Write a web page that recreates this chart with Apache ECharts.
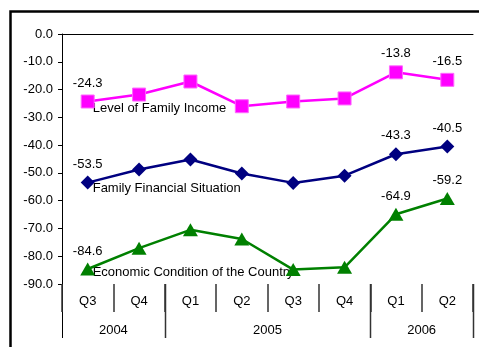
<!DOCTYPE html>
<html><head><meta charset="utf-8">
<script src="https://cdn.jsdelivr.net/npm/echarts@6/dist/echarts.min.js"></script>
<style>html,body{margin:0;padding:0;background:#fff}#c{width:479px;height:347px}</style>
</head><body><div id="c"></div>
<script>
// Quarterly survey indices, Q3 2004 – Q2 2006
const quarters = ['Q3', 'Q4', 'Q1', 'Q2', 'Q3', 'Q4', 'Q1', 'Q2'];
const years = ['2004', '2005', '2006'];
const yearSpans = [2, 4, 2];
const familyIncome = [-24.3, -21.8, -17.1, -26.0, -24.3, -23.2, -13.8, -16.5];
const familyFinance = [-53.5, -48.8, -45.2, -50.2, -53.6, -51.0, -43.3, -40.5];
const economy = [-84.6, -77.1, -70.5, -73.8, -84.8, -84.0, -64.9, -59.2];
const seriesNames = ['Level of Family Income', 'Family Financial Situation', 'Economic Condition of the Country'];
const labelledPoints = [0, 6, 7];
const yMin = -90, yMax = 0, yStep = 10;

const FONT = "'Liberation Sans', Arial, sans-serif";
const chart = echarts.init(document.getElementById('c'), null, { renderer: 'canvas' });

function pointsWithLabels(values) {
  return values.map((v, i) => ({ value: v, label: { show: labelledPoints.includes(i) } }));
}

function lineSeries(name, values, color, symbol, size, extra) {
  return Object.assign({
    name: name,
    type: 'line',
    xAxisIndex: 0,
    data: pointsWithLabels(values),
    symbol: symbol,
    symbolSize: size,
    showAllSymbol: true,
    lineStyle: { color: color, width: 2.5 },
    itemStyle: { color: color },
    label: {
      position: 'top', distance: 5, color: '#000',
      fontFamily: FONT, fontSize: 13,
      formatter: p => p.value.toFixed(1)
    },
    animation: false
  }, extra || {});
}

chart.setOption({
  animation: false,
  grid: { left: 62, right: 6, top: 34, bottom: 63, containLabel: false },
  xAxis: [
    {
      type: 'category', data: quarters, position: 'top', boundaryGap: true,
      axisLine: { onZero: false, lineStyle: { color: '#000', width: 1 } },
      axisTick: { inside: true, length: 5, lineStyle: { color: '#000' } },
      axisLabel: { show: false }, splitLine: { show: false }
    },
    {
      type: 'category', data: quarters, position: 'bottom', boundaryGap: true,
      axisLine: { show: false, onZero: false },
      axisTick: { show: true, length: 28, lineStyle: { color: '#333', width: 1.5 } },
      axisLabel: { margin: 11, color: '#000', fontFamily: FONT, fontSize: 13 },
      splitLine: { show: false }
    }
  ],
  yAxis: {
    type: 'value', min: yMin, max: yMax, interval: yStep,
    axisLine: { show: true, lineStyle: { color: '#000', width: 1 } },
    axisTick: { show: true, length: 4, lineStyle: { color: '#000' } },
    axisLabel: { margin: 9, color: '#000', fontFamily: FONT, fontSize: 13, formatter: v => v.toFixed(1) },
    splitLine: { show: false }
  },
  series: [
    lineSeries(seriesNames[0], familyIncome, '#ff00ff', 'rect', 13,
      { itemStyle: { color: '#ff00ff', borderColor: '#ff66ff', borderWidth: 1 } }),
    lineSeries(seriesNames[1], familyFinance, '#000080', 'diamond', 14),
    lineSeries(seriesNames[2], economy, '#008000', 'triangle', [15, 13])
  ]
});

// Multi-level category separators, year labels, series captions and frame
const c0 = chart.convertToPixel({ xAxisIndex: 0 }, 0);
const c1 = chart.convertToPixel({ xAxisIndex: 0 }, 1);
const w = c1 - c0;
const boundary = i => c0 - w / 2 + i * w;
const yBottom = chart.convertToPixel({ yAxisIndex: 0 }, yMin);
const graphics = [];

let start = 0;
const longBreaks = [0];
years.forEach((yr, k) => {
  const end = start + yearSpans[k];
  longBreaks.push(end);
  graphics.push({
    type: 'text', silent: true,
    style: {
      text: yr, x: (boundary(start) + boundary(end)) / 2, y: yBottom + 46,
      align: 'center', verticalAlign: 'middle', fill: '#000', font: '13px ' + FONT
    }
  });
  start = end;
});
longBreaks.forEach(i => {
  const x = Math.round(boundary(i)) + 0.5;
  graphics.push({
    type: 'line', silent: true,
    shape: { x1: x, y1: yBottom, x2: x, y2: yBottom + 54 },
    style: { stroke: i === 0 ? '#000' : '#333', lineWidth: i === 0 ? 1 : 1.5 }
  });
});

const captionOffsets = [7, 6, 3];
[familyIncome, familyFinance, economy].forEach((vals, k) => {
  const p = chart.convertToPixel({ gridIndex: 0 }, [0, vals[0]]);
  graphics.push({
    type: 'text', silent: true,
    style: {
      text: seriesNames[k], x: p[0] + 5, y: p[1] + captionOffsets[k],
      align: 'left', verticalAlign: 'middle', fill: '#000', font: '13px ' + FONT
    }
  });
});

graphics.push({
  type: 'rect', silent: true,
  shape: { x: 10.5, y: 11.5, width: 520, height: 400 },
  style: { fill: 'none', stroke: '#000', lineWidth: 2.5 }
});

chart.setOption({ graphic: graphics });
</script>
</body></html>
